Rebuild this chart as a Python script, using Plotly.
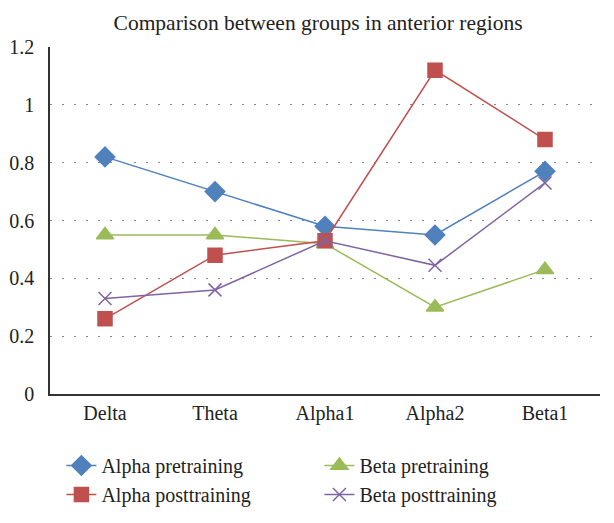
import plotly.graph_objects as go

# EEG bands on the x axis
bands = ["Delta", "Theta", "Alpha1", "Alpha2", "Beta1"]

alpha_pre = [0.82, 0.70, 0.58, 0.55, 0.77]
alpha_post = [0.26, 0.48, 0.53, 1.12, 0.88]
beta_pre = [0.55, 0.55, 0.52, 0.30, 0.43]
beta_post = [0.33, 0.36, 0.53, 0.445, 0.73]

y_ticks = [0, 0.2, 0.4, 0.6, 0.8, 1, 1.2]

FONT = "Liberation Serif"

# legend order fills row by row: pre/pre, then post/post
series = [
    ("Alpha pretraining", alpha_pre, "#4F81BD", "diamond", 15),
    ("Beta pretraining", beta_pre, "#9BBB59", "triangle-up", 15),
    ("Alpha posttraining", alpha_post, "#C0504D", "square", 14),
    ("Beta posttraining", beta_post, "#8064A2", "x-thin-open", 13),
]

fig = go.Figure()

for name, values, color, symbol, size in series:
    fig.add_trace(
        go.Scatter(
            x=bands,
            y=values,
            mode="lines+markers",
            name=name,
            line=dict(color=color, width=1.5),
            marker=dict(
                symbol=symbol,
                size=size,
                color=color,
                line=dict(color=color, width=1.5),
            ),
        )
    )

# page body adds an 8px offset, margins compensate for it
fig.update_layout(
    width=614,
    height=523,
    paper_bgcolor="white",
    plot_bgcolor="white",
    margin=dict(l=42, r=22, t=39, b=137),
    font=dict(family=FONT, size=20, color="#222222"),
    title=dict(
        text="Comparison between groups in anterior regions",
        xref="container",
        x=0.505,
        xanchor="center",
        yref="container",
        y=0.973,
        yanchor="middle",
        font=dict(family=FONT, size=21.5, color="#222222"),
    ),
    legend=dict(
        orientation="h",
        xref="container",
        yref="container",
        x=0.087,
        xanchor="left",
        y=0.1625,
        yanchor="top",
        entrywidth=213,
        entrywidthmode="pixels",
        font=dict(family=FONT, size=20, color="#222222"),
        tracegroupgap=0,
    ),
)

fig.update_xaxes(
    range=[-0.5, 4.5],
    showline=True,
    linecolor="#333333",
    linewidth=1.5,
    showgrid=False,
    ticks="",
    automargin=False,
    tickfont=dict(family=FONT, size=20),
)

fig.update_yaxes(
    range=[0, 1.2],
    tickvals=y_ticks,
    showline=True,
    linecolor="#333333",
    linewidth=1.5,
    showgrid=True,
    gridcolor="#888888",
    griddash="2px,10px",
    gridwidth=1,
    zeroline=False,
    ticks="",
    ticklabelstandoff=10,
    automargin=False,
    tickfont=dict(family=FONT, size=20),
)

fig.write_html("out.html")
